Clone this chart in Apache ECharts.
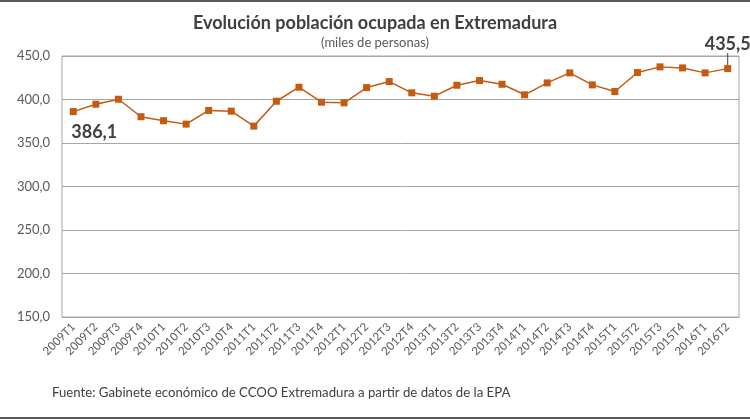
<!DOCTYPE html>
<html><head><meta charset="utf-8">
<script src="https://cdn.jsdelivr.net/npm/echarts@6/dist/echarts.min.js"></script>
<style>html,body{margin:0;padding:0;background:#fff}#c{width:750px;height:420px}</style>
</head><body><div id="c"></div>
<script>
const categories = ['2009T1','2009T2','2009T3','2009T4','2010T1','2010T2','2010T3','2010T4','2011T1','2011T2','2011T3','2011T4','2012T1','2012T2','2012T3','2012T4','2013T1','2013T2','2013T3','2013T4','2014T1','2014T2','2014T3','2014T4','2015T1','2015T2','2015T3','2015T4','2016T1','2016T2'];
const ocupados = [386.1,394.6,400.3,380.2,375.6,371.7,387.4,386.6,369.4,398.0,414.1,396.9,396.2,413.7,420.6,407.7,403.8,416.4,421.8,417.5,405.4,419.1,430.6,416.8,409.2,431.0,437.5,436.3,430.6,435.5];
const yTicks = {min:150, max:450, interval:50};
const fmt = v => v.toFixed(1).replace('.', ',');
const FONT = 'Lato';
const chart = echarts.init(document.getElementById('c'), null, {renderer:'canvas'});
const last = ocupados.length - 1;
chart.setOption({
  animation:false,
  textStyle:{fontFamily:FONT},
  title:{
    text:'Evolución población ocupada en Extremadura',
    subtext:'(miles de personas)',
    left:'center', top:9, itemGap:4,
    textStyle:{fontFamily:FONT, fontSize:18, fontWeight:'bold', color:'#404040'},
    subtextStyle:{fontFamily:FONT, fontSize:13, color:'#595959'}
  },
  grid:{left:62, right:11, top:56, bottom:103, show:true, borderColor:'#a6a6a6', borderWidth:1},
  xAxis:{
    type:'category', data:categories, boundaryGap:true,
    axisLine:{show:true, lineStyle:{color:'#a6a6a6'}},
    axisTick:{show:false},
    axisLabel:{rotate:45, interval:0, fontSize:11.5, color:'#595959', fontFamily:FONT, margin:8}
  },
  yAxis:{
    type:'value', min:yTicks.min, max:yTicks.max, interval:yTicks.interval,
    axisLine:{show:false}, axisTick:{show:false},
    splitLine:{lineStyle:{color:'#a6a6a6', width:1}},
    axisLabel:{formatter:fmt, fontSize:13, color:'#595959', fontFamily:FONT, margin:12}
  },
  series:[{
    type:'line', data:ocupados.map((v,i)=>{
      if(i===0) return {value:v, label:{show:true, position:'bottom', distance:5}};
      if(i===last) return {value:v, label:{show:true, position:'top', distance:4}, labelLine:{show:true}};
      return v;
    }),
    symbol:'rect', symbolSize:7,
    itemStyle:{color:'#c55a11'},
    lineStyle:{color:'#c55a11', width:1.5},
    label:{show:false, formatter:p=>fmt(p.value), fontSize:18, fontWeight:'bold', color:'#404040', fontFamily:FONT},
    labelLine:{show:false, lineStyle:{color:'#404040', width:1}},
    labelLayout:function(p){
      if(p.dataIndex===last) return {dy:-8};
      if(p.dataIndex===0) return {dx:21, dy:3};
      return {};
    }
  }],
  graphic:[
    {type:'rect', left:0, top:0, shape:{width:750, height:2}, style:{fill:'#595959'}},
    {type:'rect', left:0, top:417, shape:{width:750, height:2}, style:{fill:'#595959'}},
    {type:'text', left:52, top:386, style:{text:'Fuente: Gabinete económico de CCOO Extremadura a partir de datos de la EPA', fontSize:13.2, fill:'#404040', fontFamily:FONT}}
  ]
});
</script></body></html>
